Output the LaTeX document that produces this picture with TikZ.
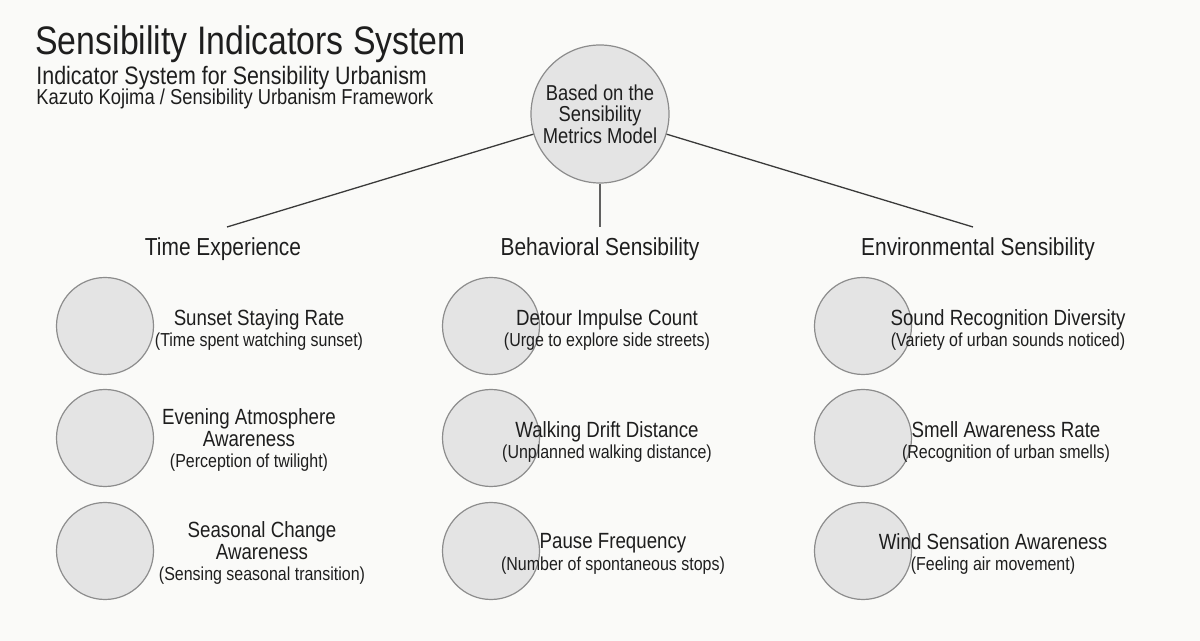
\documentclass[tikz,border=0pt]{standalone}
\usepackage{fontspec}
\setmainfont{Liberation Sans}[FakeStretch=0.85]
\usetikzlibrary{positioning}

\definecolor{paper}{HTML}{FAFAF8}
\definecolor{ink}{HTML}{1E1E1E}
\definecolor{disc}{HTML}{E4E4E4}
\definecolor{rim}{HTML}{8C8C8C}
\definecolor{wire}{HTML}{3A3A3A}

\tikzset{
  disk/.style={circle, fill=disc, draw=rim, line width=0.6pt, minimum size=48.5pt, inner sep=0pt},
  rootdisk/.style={disk, minimum size=69pt, align=center, text=ink,
    font=\fontsize{10.8}{10.8}\selectfont},
  titletext/.style={anchor=base west, inner sep=0pt, text=ink},
  head/.style={text=ink, font=\fontsize{12.3}{14}\selectfont},
  itemtext/.style={text=ink, align=center, font=\fontsize{11}{10.8}\selectfont},
  wire/.style={draw=wire, line width=0.65pt}
}
\newcommand{\subline}[1]{{\fontsize{9.4}{10.8}\selectfont #1}}

\begin{document}
\begin{tikzpicture}[x=0.5pt,y=-0.5pt]

\fill [paper] (0,0) rectangle (1200,641);
\useasboundingbox (0,0) rectangle (1200,641);

% title block
\node [titletext, font=\fontsize{19.9}{24}\selectfont] (title) at (35,55) {Sensibility Indicators System};
\node [titletext, font=\fontsize{12.6}{15}\selectfont] (subtitle) at (36,85) {Indicator System for Sensibility Urbanism};
\node [titletext, font=\fontsize{10.8}{13}\selectfont] (author) at (36,105) {Kazuto Kojima / Sensibility Urbanism Framework};

% root
\node [rootdisk] (root) at (600,114) {Based on the\\Sensibility\\Metrics Model};

\coordinate (tl) at (227,227);
\coordinate (tm) at (600,227);
\coordinate (tr) at (973,227);

\draw [wire] (root) -- (tl);
\draw [wire, draw=wire!80, line width=0.9pt] (root) -- (tm);
\draw [wire] (root) -- (tr);

% categories
\node [head, anchor=base] (time) at (223,256) {Time Experience};
\node [head, anchor=base] (behav) at (600,256) {Behavioral Sensibility};
\node [head, anchor=base] (envir) at (978,256) {Environmental Sensibility};

% indicator circles
\foreach \col/\cx in {t/105, b/491, e/863}
    \foreach \row/\cy in {1/326, 2/438, 3/551}
        \node [disk] (\col\row) at (\cx,\cy) {};

% indicator texts
\node [itemtext] (t1txt) at (259,330) {Sunset Staying Rate\\\subline{(Time spent watching sunset)}};
\node [itemtext] (t2txt) at (249,440) {Evening Atmosphere\\Awareness\\\subline{(Perception of twilight)}};
\node [itemtext] (t3txt) at (262,553) {Seasonal Change\\Awareness\\\subline{(Sensing seasonal transition)}};

\node [itemtext] (b1txt) at (607,330) {Detour Impulse Count\\\subline{(Urge to explore side streets)}};
\node [itemtext] (b2txt) at (607,442) {Walking Drift Distance\\\subline{(Unplanned walking distance)}};
\node [itemtext] (b3txt) at (613,554) {Pause Frequency\\\subline{(Number of spontaneous stops)}};

\node [itemtext] (e1txt) at (1008,330) {Sound Recognition Diversity\\\subline{(Variety of urban sounds noticed)}};
\node [itemtext] (e2txt) at (1006,442) {Smell Awareness Rate\\\subline{(Recognition of urban smells)}};
\node [itemtext] (e3txt) at (993,554) {Wind Sensation Awareness\\\subline{(Feeling air movement)}};

\end{tikzpicture}
\end{document}
